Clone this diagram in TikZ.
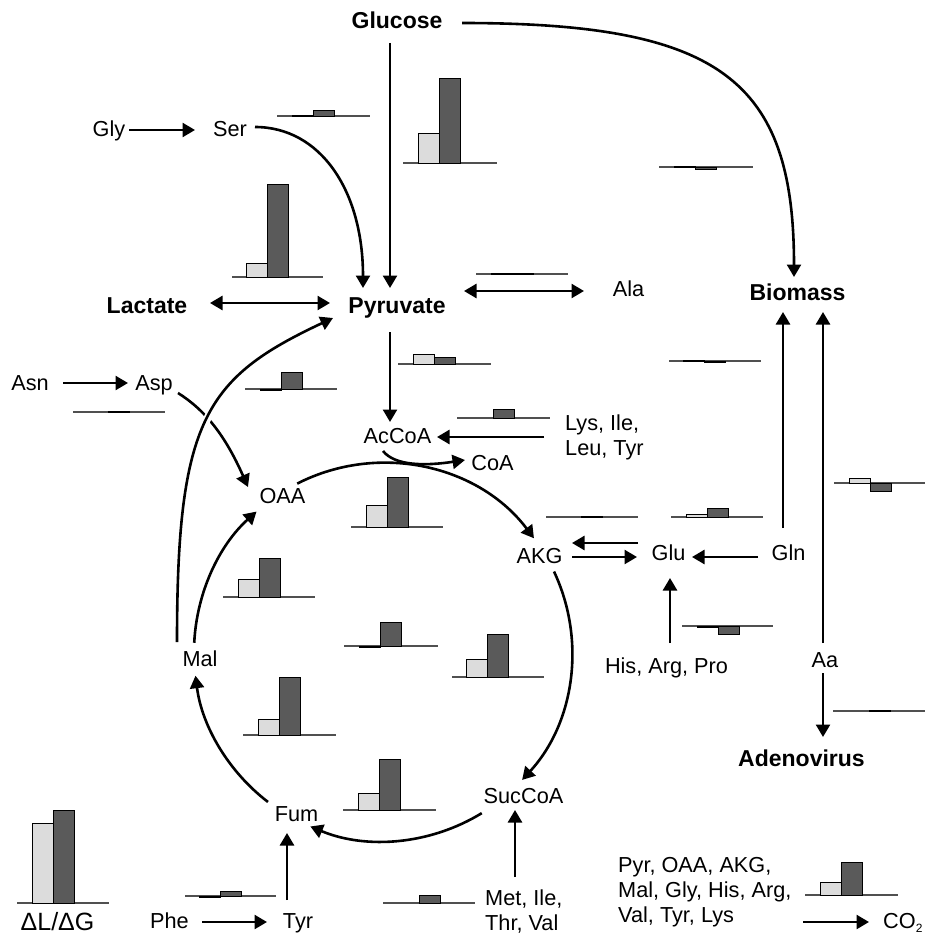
\documentclass[tikz,border=0pt]{standalone}
\usepackage{fontspec}
\setmainfont{Liberation Sans}
\usetikzlibrary{arrows.meta}
\definecolor{barlight}{HTML}{DCDCDC}
\definecolor{bardark}{HTML}{5A5A5A}
\definecolor{baseln}{HTML}{505050}
\newcommand{\barpair}[6]{%
  \draw[baseln, line width=1.2pt] (#1,#3) -- (#2,#3);
  \ifdim #5pt=0pt\else\filldraw[fill=barlight, draw=black, line width=0.8pt] (#4,#3) rectangle ({#4+21},{#3-(#5)});\fi
  \ifdim #6pt=0pt\else\filldraw[fill=bardark, draw=black, line width=0.8pt] ({#4+21},#3) rectangle ({#4+42},{#3-(#6)});\fi
}
\tikzset{
 lbl/.style={font=\fontsize{21.7}{25}\selectfont, inner sep=0pt, text height=15.5pt, text depth=4.5pt, anchor=base},
 blbl/.style={font=\fontsize{23}{26}\selectfont\bfseries, inner sep=0pt, text height=16.5pt, text depth=5pt, anchor=base},
 mlbl/.style={font=\fontsize{21.7}{25}\selectfont, inner sep=0pt, align=left, anchor=north west},
 arr/.style={line width=2.6pt, -{Triangle[length=12.5pt,width=14pt]}},
 darr/.style={line width=2.6pt, {Triangle[length=12.5pt,width=14pt]}-{Triangle[length=12.5pt,width=14pt]}},
}
\begin{document}
\begin{tikzpicture}[x=1pt,y=-1pt]
\fill[white] (0,0) rectangle (925,934);
\useasboundingbox (0,0) rectangle (925,934);

% bar charts: baseline xa, xb, y, light x, light h, dark h
\barpair{277}{370}{116}{292}{1}{6}
\barpair{403}{497}{163}{418}{30}{85}
\barpair{232}{323}{277}{246}{14}{93}
\barpair{659}{753}{167}{674}{1}{-2}
\barpair{476}{568}{274}{491}{1}{1}
\barpair{398}{491}{364}{413}{10}{7}
\barpair{457}{550}{418}{472}{0}{9}
\barpair{73}{165}{412}{87}{0}{1}
\barpair{245}{337}{389}{260}{-1}{17}
\barpair{351}{443}{527}{366}{22}{50}
\barpair{223}{315}{597}{238}{18}{39}
\barpair{344}{438}{646}{359}{-1.5}{24}
\barpair{452}{544}{677}{466}{18}{43}
\barpair{546}{638}{517}{560}{0}{1}
\barpair{671}{763}{517}{686}{3}{9}
\barpair{669}{761}{361}{683}{1}{-1.5}
\barpair{834}{925}{483}{849}{5}{-8}
\barpair{682}{773}{626}{697}{-1}{-8}
\barpair{833}{925}{711}{848}{0}{1}
\barpair{805}{898}{895}{820}{13}{33}
\barpair{243}{336}{735}{258}{16}{58}
\barpair{343}{436}{810}{358}{17}{51}
\barpair{17}{109}{903}{32}{80}{93}
\barpair{185}{276}{896}{199}{-1}{5}
\barpair{383}{475}{903}{398}{0}{8}

% nodes
\node[blbl] (glucose) at (397,29) {Glucose};
\node[blbl] (lactate) at (147,313) {Lactate};
\node[blbl] (pyruvate) at (397,313) {Pyruvate};
\node[blbl] (biomass) at (797.5,300) {Biomass};
\node[blbl] (adeno) at (801.5,766) {Adenovirus};
\node[lbl] (gly) at (109,136) {Gly};
\node[lbl] (ser) at (230,136) {Ser};
\node[lbl] (ala) at (628.5,296) {Ala};
\node[lbl] (asn) at (30,390) {Asn};
\node[lbl] (asp) at (154,390) {Asp};
\node[lbl] (accoa) at (397.5,443) {AcCoA};
\node[lbl] (coa) at (492.5,470) {CoA};
\node[lbl] (oaa) at (282.5,503) {OAA};
\node[lbl] (akg) at (539.5,563) {AKG};
\node[lbl] (glu) at (668.5,560) {Glu};
\node[lbl] (gln) at (788.5,560) {Gln};
\node[lbl] (mal) at (200,666) {Mal};
\node[lbl] (fum) at (296.5,821) {Fum};
\node[lbl] (succoa) at (523.5,803) {SucCoA};
\node[lbl] (his) at (666.5,673) {His, Arg, Pro};
\node[lbl] (aa) at (825,667) {Aa};
\node[lbl] (phe) at (169.5,928) {Phe};
\node[lbl] (tyr) at (298,928) {Tyr};
\node[mlbl] (lys) at (565,414.5) {Lys, Ile,\\Leu, Tyr};
\node[mlbl] (met) at (485,889.5) {Met, Ile,\\Thr, Val};
\node[mlbl] (pyrlist) at (618,857.5) {Pyr, OAA, AKG,\\Mal, Gly, His, Arg,\\Val, Tyr, Lys};
\node[lbl, anchor=base west] (co2) at (883,928) {CO\raisebox{-0.22em}{\fontsize{12}{12}\selectfont 2}};
\node[font=\fontsize{25}{25}\selectfont, inner sep=0pt, anchor=base] (legend) at (57.5,930) {ΔL/ΔG};

% connectors
\draw[arr] ([shift={(-7,19.75)}]glucose.center) -- ([shift={(-7,-19.25)}]pyruvate.center);
\draw[arr] ([shift={(25,-3.5)}]ser.center) .. controls +(65,0) and +(0,-98) .. ([shift={(-34,-19.25)}]pyruvate.center);
\draw[arr] ([shift={(20,-0.5)}]gly.center) -- ([shift={(-35,-0.5)}]ser.center);
\draw[darr] ([shift={(63,-4.25)}]lactate.center) -- ([shift={(-67,-4.25)}]pyruvate.center);
\draw[darr] ([shift={(67,-16.25)}]pyruvate.center) -- ([shift={(-44.5,0.5)}]ala.center);
\draw[arr] ([shift={(65,-0.25)}]glucose.center) .. controls +(258,0) and +(0,-197) .. ([shift={(-3.5,-17.25)}]biomass.center);
\draw[arr] ([shift={(-5.5,-26.5)}]gln.center) -- ([shift={(-14.5,17.75)}]biomass.center);
\draw[arr] ([shift={(-2,-18.5)}]aa.center) -- ([shift={(25.5,17.75)}]biomass.center);
\draw[arr] ([shift={(-2,11.5)}]aa.center) -- ([shift={(21.5,-23.25)}]adeno.center);
\draw[arr] ([shift={(-30.5,2.5)}]gln.center) -- ([shift={(23.5,2.5)}]glu.center);
\draw[arr] ([shift={(-30.5,-11.5)}]glu.center) -- ([shift={(32.5,-14.5)}]akg.center);
\draw[arr] ([shift={(32.5,-0.5)}]akg.center) -- ([shift={(-31.5,2.5)}]glu.center);
\draw[arr] ([shift={(3.5,-24.5)}]his.center) -- ([shift={(1.5,23.5)}]glu.center);
\draw[arr] ([shift={(-21,22.5)}]lys.north west) -- ([shift={(39.5,-0.5)}]accoa.center);
\draw[arr] ([shift={(-7,24.75)}]pyruvate.center) -- ([shift={(-7.5,-15.5)}]accoa.center);
\draw[arr] ([shift={(33,-1.5)}]asn.center) -- ([shift={(-26,-1.5)}]asp.center);
\draw[arr] ([shift={(24,8.5)}]asp.center) .. controls +(27,17) and +(-23,-52) .. ([shift={(-34.5,-10.5)}]oaa.center);
\draw[arr, preaction={draw=white, line width=8pt, arrows=-}] ([shift={(-23,-18.5)}]mal.center) .. controls +(0,-222) and +(-128,60) .. ([shift={(-64,10.75)}]pyruvate.center);
\draw[arr] ([shift={(32.5,-0.5)}]phe.center) -- ([shift={(-31,-0.5)}]tyr.center);
\draw[arr] ([shift={(-11,-22.5)}]tyr.center) -- ([shift={(-9.5,17.5)}]fum.center);
\draw[arr] ([shift={(30,-12.5)}]met.north west) -- ([shift={(-8.5,12.5)}]succoa.center);
\draw[arr] ([shift={(185,64.5)}]pyrlist.north west) -- ([shift={(-14,-6)}]co2.base west);

% TCA cycle
\coordinate (tca) at (383,652);
\draw[arr] ([shift={(-117:189)}]tca) arc[start angle=-117, end angle=-37, radius=189];
\draw[arr] ([shift={(-14.5,13.5)}]accoa.center) .. controls +(12,15) and +(-40,6) .. ([shift={(-27.5,-4.5)}]coa.center);
\draw[arr] ([shift={(-25.2:189)}]tca) arc[start angle=-25.2, end angle=42.6, radius=189];
\draw[arr] ([shift={(58.5:189)}]tca) arc[start angle=58.5, end angle=112.6, radius=189];
\draw[arr] ([shift={(127.5:189)}]tca) arc[start angle=127.5, end angle=172.8, radius=189];
\draw[arr] ([shift={(182.8:189)}]tca) arc[start angle=182.8, end angle=228, radius=189];
\end{tikzpicture}
\end{document}
